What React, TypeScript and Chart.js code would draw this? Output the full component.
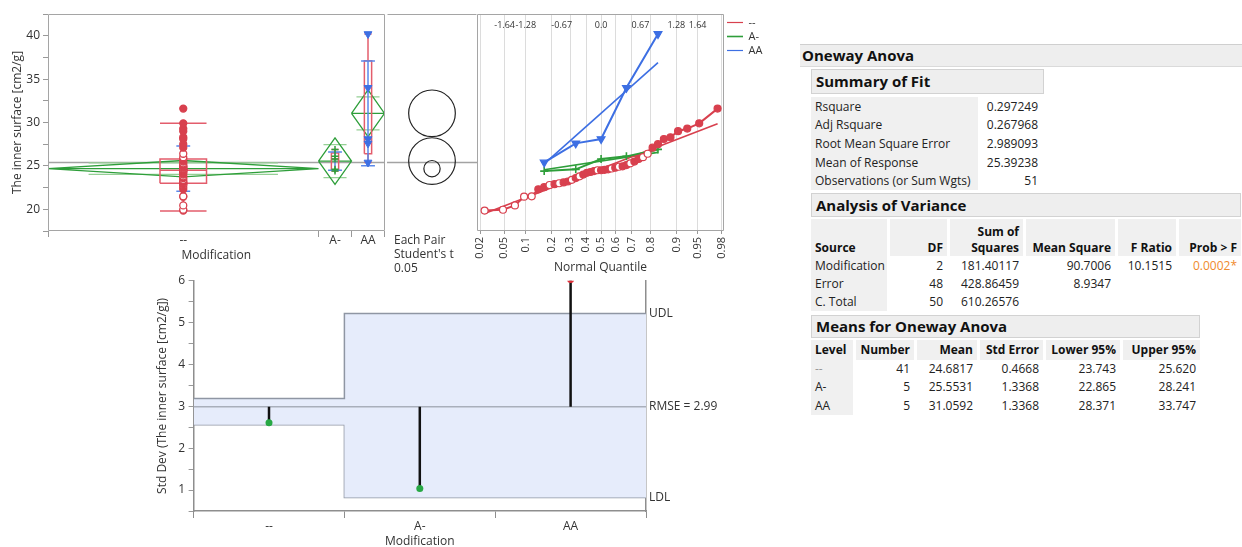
import React, { useEffect, useRef } from "react";
import { Chart, registerables } from "chart.js";

Chart.register(...registerables);

const FONT = "'Segoe UI', 'Open Sans', 'Noto Sans', sans-serif";
Chart.defaults.font.family = FONT;
Chart.defaults.font.size = 12;
Chart.defaults.color = "#333";

// ---------------- data ----------------
const groups = ["--", "A-", "AA"];
const groupCounts = [41, 5, 5];
const groupMeans = [24.6817, 25.5531, 31.0592];
const groupStdErr = [0.4668, 1.3368, 1.3368];
const groupLower95 = [23.743, 22.865, 28.371];
const groupUpper95 = [25.62, 28.241, 33.747];
const groupStdDev = [2.61, 1.04, 6.03];
const grandMean = 25.39238;
const rmse = 2.989093;

const valuesDash = [
  19.85, 19.95, 20.45, 21.45, 21.5, 22.3, 22.55, 22.8, 22.9, 23.0,
  23.1, 23.2, 23.4, 23.6, 23.8, 24.0, 24.2, 24.3, 24.4, 24.5,
  24.5, 24.55, 24.6, 24.7, 24.8, 24.9, 24.95, 25.1, 25.3, 25.5,
  25.8, 26.0, 26.4, 27.1, 27.5, 28.1, 28.3, 29.0, 29.3, 29.9, 31.6,
];
const hollowDashIdx = [0, 1, 2, 3, 4, 7, 9, 12, 14, 19, 23, 25, 28, 31, 32];
const valuesAMinus = [24.4, 24.6, 25.8, 26.1, 26.9];
const valuesAA = [25.4, 27.6, 28.1, 34.0, 40.2];

const boxQ1 = [23.0, 24.5, 26.4];
const boxMedian = [24.5, 25.8, 28.1];
const boxQ3 = [25.8, 26.5, 37.1];
const whiskerLow = [19.8, 24.4, 25.4];
const whiskerHigh = [29.9, 26.9, 40.2];

const quantileProbTicks = [0.02, 0.05, 0.1, 0.2, 0.3, 0.4, 0.5, 0.6, 0.7, 0.8, 0.9, 0.95, 0.98];
const quantileProbLabels = ["0.02", "0.05", "0.1", "0.2", "0.3", "0.4", "0.5", "0.6", "0.7", "0.8", "0.9", "0.95", "0.98"];
const quantileZTicks = [-1.64, -1.28, -0.67, 0, 0.67, 1.28, 1.64];
const quantileZLabels = ["-1.64", "-1.28", "-0.67", "0.0", "0.67", "1.28", "1.64"];

const anomUDL = [3.19, 5.22, 5.22];
const anomLDL = [2.56, 0.82, 0.82];

const summaryLabels = ["Rsquare", "Adj Rsquare", "Root Mean Square Error", "Mean of Response", "Observations (or Sum Wgts)"];
const summaryValues = ["0.297249", "0.267968", "2.989093", "25.39238", "51"];

const anovaHeaders = [["Source"], ["DF"], ["Sum of", "Squares"], ["Mean Square"], ["F Ratio"], ["Prob > F"]];
const anovaSources = ["Modification", "Error", "C. Total"];
const anovaDF = ["2", "48", "50"];
const anovaSS = ["181.40117", "428.86459", "610.26576"];
const anovaMS = ["90.7006", "8.9347", ""];
const anovaF = ["10.1515", "", ""];
const anovaProb = ["0.0002*", "", ""];

const meansHeaders = ["Level", "Number", "Mean", "Std Error", "Lower 95%", "Upper 95%"];

// ---------------- colours ----------------
const RED = "#D8404E";
const RED_BOX = "#E35D6C";
const BLUE = "#3D6FE3";
const BLUE_SD = "#5A88EA";
const GREEN = "#2E9E3A";
const LIGHT_GREEN = "#95D095";
const GRAY = "#A3A3A3";
const FRAME = "#A5A5A5";

// ---------------- helpers ----------------
function invNorm(p: number): number {
  const a = [-3.969683028665376e1, 2.209460984245205e2, -2.759285104469687e2, 1.38357751867269e2, -3.066479806614716e1, 2.506628277459239];
  const b = [-5.447609879822406e1, 1.615858368580409e2, -1.556989798598866e2, 6.680131188771972e1, -1.328068155288572e1];
  const c = [-7.784894002430293e-3, -3.223964580411365e-1, -2.400758277161838, -2.549732539343734, 4.374664141464968, 2.938163982698783];
  const d = [7.784695709041462e-3, 3.224671290700398e-1, 2.445134137142996, 3.754408661907416];
  const pl = 0.02425;
  if (p < pl) {
    const q = Math.sqrt(-2 * Math.log(p));
    return (((((c[0] * q + c[1]) * q + c[2]) * q + c[3]) * q + c[4]) * q + c[5]) / ((((d[0] * q + d[1]) * q + d[2]) * q + d[3]) * q + 1);
  }
  if (p <= 1 - pl) {
    const q = p - 0.5;
    const r = q * q;
    return ((((((a[0] * r + a[1]) * r + a[2]) * r + a[3]) * r + a[4]) * r + a[5]) * q) / (((((b[0] * r + b[1]) * r + b[2]) * r + b[3]) * r + b[4]) * r + 1);
  }
  const q = Math.sqrt(-2 * Math.log(1 - p));
  return -(((((c[0] * q + c[1]) * q + c[2]) * q + c[3]) * q + c[4]) * q + c[5]) / ((((d[0] * q + d[1]) * q + d[2]) * q + d[3]) * q + 1);
}

type P = { x: number; y: number | null };
function polylines(paths: number[][][]): P[] {
  const out: P[] = [];
  for (const p of paths) {
    for (const [x, y] of p) out.push({ x, y });
    out.push({ x: p[p.length - 1][0], y: null });
  }
  return out;
}

function lineSet(data: P[], color: string, width: number, extra: any = {}) {
  return {
    label: "",
    data,
    showLine: true,
    borderColor: color,
    backgroundColor: color,
    borderWidth: width,
    pointRadius: 0,
    pointHoverRadius: 0,
    fill: false,
    tension: 0,
    spanGaps: false,
    ...extra,
  };
}

function geometry() {
  const starts: number[] = [];
  let acc = 0;
  groupCounts.forEach((n) => {
    starts.push(acc);
    acc += n;
  });
  const ends = starts.map((s, i) => s + groupCounts[i]);
  const centers = starts.map((s, i) => (s + ends[i]) / 2);
  return { starts, ends, centers, total: acc };
}

const framePlugin = {
  id: "frame",
  afterDraw(chart: any, _a: any, opts: any) {
    const sides: string = opts && opts.sides;
    if (!sides) return;
    const { left, top, right, bottom } = chart.chartArea;
    const ctx = chart.ctx;
    const L = Math.round(left) + 0.5;
    const R = Math.round(right) - 0.5;
    const T = Math.round(top) + 0.5;
    const B = Math.round(bottom) - 0.5;
    ctx.save();
    ctx.strokeStyle = opts.color || FRAME;
    ctx.lineWidth = 1;
    ctx.beginPath();
    if (sides.includes("t")) { ctx.moveTo(L, T); ctx.lineTo(R, T); }
    if (sides.includes("b")) { ctx.moveTo(L, B); ctx.lineTo(R, B); }
    if (sides.includes("l")) { ctx.moveTo(L, T); ctx.lineTo(L, B); }
    if (sides.includes("r")) { ctx.moveTo(R, T); ctx.lineTo(R, B); }
    ctx.stroke();
    ctx.restore();
  },
};

const legendWidthPlugin = {
  id: "legendWidth",
  beforeLayout(chart: any) {
    const lg = chart.legend;
    if (lg && !lg.__fixed) {
      const orig = lg.fit.bind(lg);
      lg.fit = function () {
        orig();
        this.width = 60;
      };
      lg.__fixed = true;
    }
  },
};

const Y_MIN = 17.5;
const Y_MAX = 42.5;

// ---------------- chart 1: oneway plot ----------------
function buildOneway(): any {
  const { starts, ends, centers, total } = geometry();

  const diamondPaths: number[][][] = [];
  const overlapPaths: number[][][] = [];
  const boxPaths: number[][][] = [];
  const sdPaths: number[][][] = [];
  groups.forEach((_, i) => {
    const s = starts[i], e = ends[i], c = centers[i];
    const m = groupMeans[i], u = groupUpper95[i], l = groupLower95[i];
    diamondPaths.push([[s, m], [c, u], [e, m], [c, l], [s, m]]);
    diamondPaths.push([[s, m], [e, m]]);
    const ow = groupCounts[i] * 0.35;
    const d = (u - m) / Math.SQRT2;
    overlapPaths.push([[c - ow, m + d], [c + ow, m + d]]);
    overlapPaths.push([[c - ow, m - d], [c + ow, m - d]]);
    const b = Math.max(groupCounts[i] * 0.086, 0.55);
    boxPaths.push([[c - b, boxQ1[i]], [c + b, boxQ1[i]], [c + b, boxQ3[i]], [c - b, boxQ3[i]], [c - b, boxQ1[i]]]);
    boxPaths.push([[c - b, boxMedian[i]], [c + b, boxMedian[i]]]);
    boxPaths.push([[c, boxQ3[i]], [c, whiskerHigh[i]]]);
    boxPaths.push([[c, boxQ1[i]], [c, whiskerLow[i]]]);
    boxPaths.push([[c - b, whiskerHigh[i]], [c + b, whiskerHigh[i]]]);
    boxPaths.push([[c - b, whiskerLow[i]], [c + b, whiskerLow[i]]]);
    const sd = groupStdDev[i], k = 1.05;
    sdPaths.push([[c, m - sd], [c, m + sd]]);
    sdPaths.push([[c - k, m + sd], [c + k, m + sd]]);
    sdPaths.push([[c - k, m - sd], [c + k, m - sd]]);
  });

  const boundaries = [...starts, total];
  const tickVals = [...boundaries, ...centers].sort((a, b) => a - b);
  const isBoundary = (v: number) => boundaries.some((b) => Math.abs(b - v) < 1e-6);

  return {
    type: "scatter",
    data: {
      datasets: [
        {
          label: "AA",
          data: valuesAA.map((v) => ({ x: centers[2], y: v })),
          pointStyle: "triangle",
          pointRotation: 180,
          pointRadius: 4.5,
          pointBackgroundColor: BLUE,
          pointBorderColor: BLUE,
          pointBorderWidth: 1,
        },
        {
          label: "A-",
          data: valuesAMinus.map((v) => ({ x: centers[1], y: v })),
          pointStyle: "cross",
          pointRadius: 3.5,
          pointBorderColor: GREEN,
          pointBorderWidth: 1.5,
        },
        {
          label: "--",
          data: valuesDash.map((v) => ({ x: centers[0], y: v })),
          pointStyle: "circle",
          pointRadius: 3.5,
          pointBackgroundColor: valuesDash.map((_, i) => (hollowDashIdx.includes(i) ? "#ffffff" : RED)),
          pointBorderColor: RED,
          pointBorderWidth: 1.3,
        },
        lineSet(polylines(sdPaths), BLUE_SD, 1.5),
        lineSet(polylines(boxPaths), RED_BOX, 1.5),
        lineSet(polylines(diamondPaths), GREEN, 1.3),
        lineSet(polylines(overlapPaths), LIGHT_GREEN, 1.3),
        lineSet(polylines([[[0, grandMean], [total, grandMean]]]), GRAY, 1.5),
      ],
    },
    options: {
      responsive: false,
      animation: false,
      events: [],
      layout: { padding: { top: 14, right: 3, left: 0, bottom: 0 } },
      plugins: {
        legend: { display: false },
        tooltip: { enabled: false },
        frame: { sides: "tlbr" },
      },
      scales: {
        x: {
          type: "linear",
          min: 0,
          max: total,
          afterBuildTicks: (s: any) => {
            s.ticks = tickVals.map((v) => ({ value: v }));
          },
          afterFit: (s: any) => {
            s.height = 44;
          },
          grid: {
            display: true,
            drawOnChartArea: false,
            drawTicks: true,
            tickLength: 6,
            color: "#999",
            tickColor: (ctx: any) => (ctx.tick && isBoundary(ctx.tick.value) ? "#999" : "rgba(0,0,0,0)"),
          },
          border: { display: false },
          ticks: {
            autoSkip: false,
            maxRotation: 0,
            minRotation: 0,
            padding: -4,
            color: "#333",
            font: { size: 12 },
            callback: (v: number) => {
              const i = centers.findIndex((c) => Math.abs(c - v) < 1e-6);
              return i >= 0 ? groups[i] : "";
            },
          },
          title: { display: true, text: "Modification", color: "#333", font: { size: 12 }, padding: { top: 0, bottom: 12.5 } },
        },
        y: {
          min: Y_MIN,
          max: Y_MAX,
          afterFit: (s: any) => {
            s.width = 48;
          },
          ticks: {
            stepSize: 2.5,
            padding: 3,
            color: "#333",
            font: { size: 12 },
            callback: (v: number) => (Math.abs(v % 5) < 1e-6 ? String(v) : ""),
          },
          grid: { display: true, drawOnChartArea: false, tickLength: 5, color: "#999" },
          border: { display: false },
          title: { display: true, text: "The inner surface [cm2/g]", color: "#333", font: { size: 12 }, padding: { top: 10.8, bottom: 0 } },
        },
      },
    },
    plugins: [framePlugin],
  };
}

// ---------------- chart 2: comparison circles ----------------
function buildCircles(): any {
  return {
    type: "scatter",
    data: {
      datasets: [
        {
          label: "circles",
          data: groupMeans.map((m) => ({ x: 0, y: m })),
          pointStyle: "circle",
          pointRadius: (ctx: any) => {
            const ys = ctx.chart.scales.y;
            const i = ctx.dataIndex;
            if (!ys || i === undefined) return 0;
            return Math.abs(ys.getPixelForValue(groupMeans[i]) - ys.getPixelForValue(groupUpper95[i]));
          },
          pointBackgroundColor: "rgba(0,0,0,0)",
          pointBorderColor: "#222",
          pointBorderWidth: 1.2,
          clip: false,
        },
        lineSet(polylines([[[-1, grandMean], [1, grandMean]]]), GRAY, 1.5),
      ],
    },
    options: {
      responsive: false,
      animation: false,
      events: [],
      layout: { padding: { top: 14, bottom: 44, left: 0, right: 0 } },
      plugins: { legend: { display: false }, tooltip: { enabled: false }, frame: { sides: "t" } },
      scales: {
        x: { type: "linear", display: false, min: -1, max: 1 },
        y: { display: false, min: Y_MIN, max: Y_MAX },
      },
    },
    plugins: [framePlugin],
  };
}

// ---------------- chart 3: normal quantile plot ----------------
function buildQuantile(): any {
  const qGroups = [
    { vals: valuesDash, color: RED, style: "circle", radius: 3.5, rot: 0 },
    { vals: valuesAMinus, color: GREEN, style: "cross", radius: 4, rot: 0 },
    { vals: valuesAA, color: BLUE, style: "triangle", radius: 4.5, rot: 180 },
  ];
  const datasets: any[] = [];
  const fits: any[] = [];
  qGroups.forEach((g, gi) => {
    const n = g.vals.length;
    const pts = g.vals.map((v, i) => ({ x: invNorm((i + 1) / (n + 1)), y: v }));
    datasets.push({
      label: groups[gi],
      data: pts,
      showLine: true,
      borderColor: g.color,
      borderWidth: 2,
      backgroundColor: g.color,
      pointStyle: g.style,
      pointRotation: g.rot,
      pointRadius: g.radius,
      pointBorderColor: g.color,
      pointBorderWidth: g.style === "cross" ? 1.6 : 1.2,
      pointBackgroundColor:
        gi === 0 ? g.vals.map((_, i) => (hollowDashIdx.includes(i) ? "#ffffff" : g.color)) : g.color,
      tension: 0,
      fill: false,
    });
    const z0 = pts[0].x;
    const z1 = pts[n - 1].x;
    fits.push(
      lineSet(
        [
          { x: z0, y: groupMeans[gi] + groupStdDev[gi] * z0 },
          { x: z1, y: groupMeans[gi] + groupStdDev[gi] * z1 },
        ],
        g.color,
        1.6
      )
    );
  });
  const zMin = -2.11;
  const zMax = 2.09;
  return {
    type: "scatter",
    data: { datasets: [datasets[2], datasets[0], datasets[1], ...fits] },
    options: {
      responsive: false,
      animation: false,
      events: [],
      layout: { padding: { top: 14, left: 10, right: 0, bottom: 0 } },
      plugins: {
        tooltip: { enabled: false },
        frame: { sides: "tlbr" },
        legend: {
          display: true,
          position: "right",
          align: "start",
          labels: {
            filter: (item: any) => item.text !== "",
            sort: (a: any, b: any) => groups.indexOf(a.text) - groups.indexOf(b.text),
            usePointStyle: true,
            pointStyle: "line",
            pointStyleWidth: 16,
            padding: 3,
            color: "#333",
            font: { size: 11 },
          },
        },
      },
      scales: {
        x: {
          type: "linear",
          position: "bottom",
          min: zMin,
          max: zMax,
          afterBuildTicks: (s: any) => {
            s.ticks = quantileProbTicks.map((p) => ({ value: invNorm(p) }));
          },
          afterFit: (s: any) => {
            s.height = 44;
          },
          grid: { display: true, drawOnChartArea: true, color: "#DCDCDC", tickLength: 3, tickColor: "#999" },
          border: { display: false },
          ticks: {
            autoSkip: false,
            minRotation: 90,
            maxRotation: 90,
            padding: 3,
            color: "#333",
            font: { size: 11 },
            callback: (_v: number, i: number) => quantileProbLabels[i],
          },
          title: { display: true, text: "Normal Quantile", color: "#333", font: { size: 12 }, padding: { top: 0, bottom: 0 } },
        },
        x2: {
          type: "linear",
          axis: "x",
          position: "top",
          min: zMin,
          max: zMax,
          afterBuildTicks: (s: any) => {
            s.ticks = quantileZTicks.map((z) => ({ value: z }));
          },
          afterFit: (s: any) => {
            s.height = 0;
          },
          grid: { display: false, drawTicks: false },
          border: { display: false },
          ticks: {
            mirror: true,
            padding: 6.5,
            autoSkip: false,
            minRotation: 0,
            maxRotation: 0,
            color: "#333",
            font: { size: 9 },
            callback: (_v: number, i: number) => quantileZLabels[i],
          },
        },
        y: { display: false, min: Y_MIN, max: Y_MAX },
      },
    },
    plugins: [framePlugin, legendWidthPlugin],
  };
}

// ---------------- chart 4: analysis of means for variances ----------------
function buildAnom(): any {
  const n = groups.length;
  const centers = groups.map((_, i) => i + 0.5);
  const stepData = (lim: number[]) => [...lim.map((v, i) => ({ x: i, y: v })), { x: n, y: lim[n - 1] }];
  const needlePaths = centers.map((c, i) => [[c, rmse], [c, groupStdDev[i]]]);
  const xTicks: number[] = [];
  for (let i = 0; i <= n; i++) {
    xTicks.push(i);
    if (i < n) xTicks.push(i + 0.5);
  }
  const inLimits = (i: number) => groupStdDev[i] <= anomUDL[i] && groupStdDev[i] >= anomLDL[i];
  return {
    type: "scatter",
    data: {
      datasets: [
        {
          label: "sd",
          data: centers.map((c, i) => ({ x: c, y: groupStdDev[i] })),
          pointStyle: "circle",
          pointRadius: 3.5,
          pointBackgroundColor: groups.map((_, i) => (inLimits(i) ? "#27A844" : "#E0303A")),
          pointBorderWidth: 0,
        },
        lineSet(polylines(needlePaths), "#111", 2.5),
        lineSet(polylines([[[0, rmse], [n, rmse]]]), "#A9AFBB", 1.5),
        lineSet(stepData(anomUDL), "#8F96A3", 1.5, { stepped: true, fill: "+1", backgroundColor: "#E6ECFB" }),
        lineSet(stepData(anomLDL), "#8F96A3", 1.5, { stepped: true }),
      ],
    },
    options: {
      responsive: false,
      animation: false,
      events: [],
      layout: { padding: { top: 7, left: 0, right: 0, bottom: 0 } },
      plugins: { legend: { display: false }, tooltip: { enabled: false } },
      scales: {
        x: {
          type: "linear",
          min: 0,
          max: n,
          afterBuildTicks: (s: any) => {
            s.ticks = xTicks.map((v) => ({ value: v }));
          },
          afterFit: (s: any) => {
            s.height = 36;
          },
          grid: {
            display: true,
            drawOnChartArea: false,
            tickLength: 7,
            color: "#8E8E8E",
            tickColor: (ctx: any) => (ctx.tick && Number.isInteger(ctx.tick.value) ? "#8E8E8E" : "rgba(0,0,0,0)"),
          },
          border: { display: true, color: "#8E8E8E", width: 1.5 },
          ticks: {
            autoSkip: false,
            maxRotation: 0,
            minRotation: 0,
            padding: 1.5,
            color: "#333",
            font: { size: 12 },
            callback: (v: number) => (Number.isInteger(v) ? "" : groups[Math.floor(v)]),
          },
          title: { display: true, text: "Modification", color: "#333", font: { size: 12 }, padding: { top: 0, bottom: -2 } },
        },
        y: {
          min: 0.5,
          max: 6,
          afterFit: (s: any) => {
            s.width = 43.6;
          },
          ticks: {
            stepSize: 0.5,
            padding: 3.6,
            color: "#333",
            font: { size: 12 },
            callback: (v: number) => (Number.isInteger(v) ? String(v) : ""),
          },
          grid: { display: true, drawOnChartArea: false, tickLength: 5, color: "#999" },
          border: { display: true, color: "#8E8E8E", width: 1.5 },
          title: { display: true, text: "Std Dev (The inner surface [cm2/g])", color: "#333", font: { size: 12 }, padding: { top: 5.3, bottom: 0 } },
        },
        y2: {
          position: "right",
          axis: "y",
          min: 0.5,
          max: 6,
          afterBuildTicks: (s: any) => {
            s.ticks = [{ value: anomLDL[n - 1] }, { value: rmse }, { value: anomUDL[n - 1] }];
          },
          afterFit: (s: any) => {
            s.width = 74;
          },
          grid: { display: false, drawTicks: false },
          border: { display: true, color: "#8E8E8E", width: 1.5 },
          ticks: {
            padding: 3,
            color: "#333",
            font: { size: 12 },
            callback: (v: number) =>
              Math.abs(v - rmse) < 1e-9 ? `RMSE = ${rmse.toFixed(2)}` : Math.abs(v - anomUDL[n - 1]) < 1e-9 ? "UDL" : "LDL",
          },
        },
      },
    },
  };
}

// ---------------- components ----------------
function ChartCanvas(props: { left: number; top: number; width: number; height: number; build: () => any }) {
  const ref = useRef<HTMLCanvasElement | null>(null);
  useEffect(() => {
    const chart = new Chart(ref.current as HTMLCanvasElement, props.build());
    return () => chart.destroy();
  }, []);
  const { left, top, width, height } = props;
  return (
    <div style={{ position: "absolute", left, top, width, height }}>
      <canvas ref={ref} width={width} height={height} style={{ display: "block", width, height }} />
    </div>
  );
}

type CellProps = {
  l: number; t: number; w: number; h: number;
  children?: any; align?: "left" | "right"; bg?: string; bold?: boolean; color?: string; size?: number; valign?: string; border?: string;
};
function Cell(p: CellProps) {
  return (
    <div
      style={{
        position: "absolute",
        left: p.l,
        top: p.t,
        width: p.w,
        height: p.h,
        boxSizing: "border-box",
        background: p.bg || "transparent",
        border: p.border || "none",
        fontWeight: p.bold ? 700 : 400,
        fontSize: p.size || 12,
        color: p.color || "#222",
        textAlign: p.align || "left",
        padding: "0 4px",
        display: "flex",
        flexDirection: "column",
        justifyContent: p.valign || "center",
        alignItems: p.align === "right" ? "flex-end" : "flex-start",
        whiteSpace: "nowrap",
        lineHeight: "15px",
      }}
    >
      {p.children}
    </div>
  );
}

function Tables() {
  const HDR_BG = "#EEEEEE";
  const CELL_BG = "#F0F0F0";
  const rowH = 18.6;
  const anovaCols = [
    { l: 811, w: 76, a: "left" },
    { l: 890, w: 57, a: "right" },
    { l: 950, w: 73, a: "right" },
    { l: 1026, w: 89, a: "right" },
    { l: 1118, w: 58, a: "right" },
    { l: 1179, w: 62, a: "right" },
  ];
  const anovaCells = [anovaSources, anovaDF, anovaSS, anovaMS, anovaF, anovaProb];
  const meansCols = [
    { l: 811, w: 42, a: "left" },
    { l: 856, w: 58, a: "right" },
    { l: 917, w: 60, a: "right" },
    { l: 980, w: 63, a: "right" },
    { l: 1046, w: 74, a: "right" },
    { l: 1123, w: 77, a: "right" },
  ];
  const meansCells = [
    groups,
    groupCounts.map(String),
    groupMeans.map((v) => v.toFixed(4)),
    groupStdErr.map((v) => v.toFixed(4)),
    groupLower95.map((v) => v.toFixed(3)),
    groupUpper95.map((v) => v.toFixed(3)),
  ];
  return (
    <>
      <div
        style={{
          position: "absolute", left: 800, top: 44, width: 442, height: 23, boxSizing: "border-box",
          background: HDR_BG, borderTop: "1px solid #CFCFCF", borderBottom: "1px solid #DADADA",
          fontWeight: 700, fontSize: 15, lineHeight: "21px", paddingLeft: 2, color: "#111",
        }}
      >
        Oneway Anova
      </div>

      <Cell l={811} t={69} w={233} h={25} bg={HDR_BG} bold size={15} color="#111" border="1px solid #D2D2D2">Summary of Fit</Cell>
      {summaryLabels.map((s, i) => (
        <React.Fragment key={s}>
          <Cell l={811} t={97 + i * rowH} w={167} h={rowH} bg={CELL_BG}>{s}</Cell>
          <Cell l={980} t={97 + i * rowH} w={62} h={rowH} align="right">{summaryValues[i]}</Cell>
        </React.Fragment>
      ))}

      <Cell l={811} t={193} w={430} h={24} bg={HDR_BG} bold size={15} color="#111" border="1px solid #D2D2D2">Analysis of Variance</Cell>
      {anovaCols.map((c, j) => (
        <Cell key={"ah" + j} l={c.l} t={219} w={c.w} h={37} bg={CELL_BG} bold align={c.a as any} valign="flex-end" color="#111">
          {anovaHeaders[j].map((line) => (
            <span key={line} style={{ display: "block", paddingBottom: 1 }}>{line}</span>
          ))}
        </Cell>
      ))}
      {anovaSources.map((_, r) =>
        anovaCols.map((c, j) => (
          <Cell
            key={"ab" + r + "-" + j}
            l={c.l}
            t={256 + r * 18.4}
            w={c.w}
            h={18.4}
            bg={j === 0 ? CELL_BG : undefined}
            align={c.a as any}
            color={j === 5 ? "#F08A2C" : "#222"}
          >
            {anovaCells[j][r]}
          </Cell>
        ))
      )}

      <Cell l={811} t={315} w={389} h={23} bg={HDR_BG} bold size={15} color="#111" border="1px solid #D2D2D2">Means for Oneway Anova</Cell>
      {meansCols.map((c, j) => (
        <Cell key={"mh" + j} l={c.l} t={340} w={c.w} h={19.5} bg={CELL_BG} bold align={c.a as any} color="#111">
          {meansHeaders[j]}
        </Cell>
      ))}
      {groups.map((g, r) =>
        meansCols.map((c, j) => (
          <Cell
            key={"mb" + r + "-" + j}
            l={c.l}
            t={359 + r * 18.5}
            w={c.w}
            h={18.5}
            bg={j === 0 ? CELL_BG : undefined}
            align={c.a as any}
            color={j === 0 && g === "--" ? "#999" : "#222"}
          >
            {meansCells[j][r]}
          </Cell>
        ))
      )}
    </>
  );
}

export default function App() {
  return (
    <div
      style={{
        position: "absolute", left: 0, top: 0, width: 1242, height: 547, overflow: "hidden",
        background: "#fff", fontFamily: FONT, color: "#222",
      }}
    >
      <ChartCanvas left={0} top={0} width={390} height={275} build={buildOneway} />
      <ChartCanvas left={387} top={0} width={90} height={275} build={buildCircles} />
      <ChartCanvas left={467} top={0} width={317} height={275} build={buildQuantile} />
      <ChartCanvas left={150} top={270} width={570} height={277} build={buildAnom} />
      <div style={{ position: "absolute", left: 394, top: 233, fontSize: 12, lineHeight: "14px", color: "#333", whiteSpace: "nowrap" }}>
        Each Pair
        <br />
        Student's t
        <br />
        0.05
      </div>
      <Tables />
    </div>
  );
}
